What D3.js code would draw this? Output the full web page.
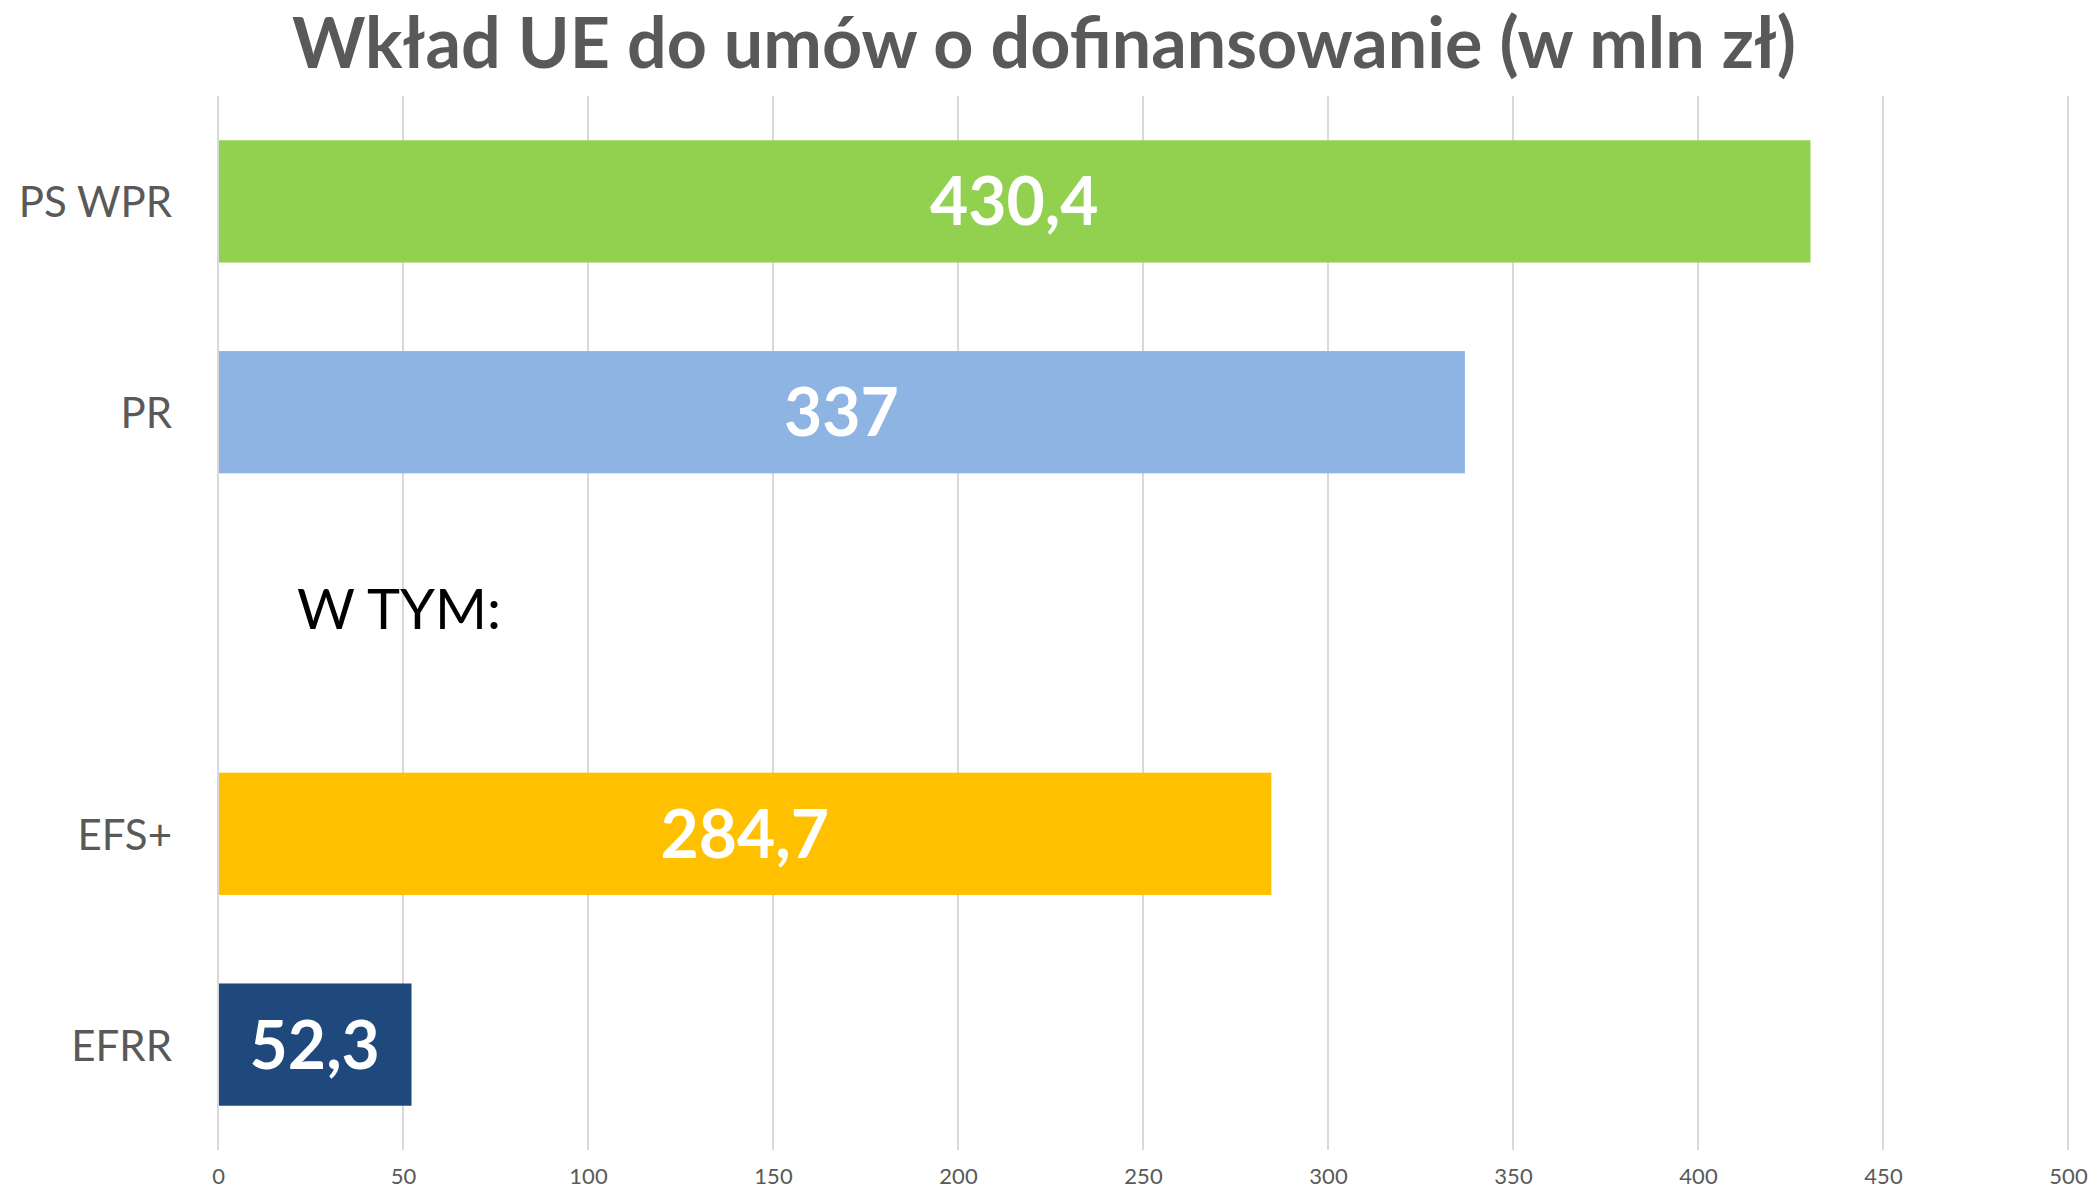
<!DOCTYPE html>
<html>
<head>
<meta charset="utf-8">
<script src="https://cdn.jsdelivr.net/npm/d3@7"></script>
<style>
  html, body { margin: 0; padding: 0; background: #fff; }
  svg { display: block; }
</style>
</head>
<body>
<svg id="chart" width="2094" height="1190"></svg>
<script>
// ---- data ----
const title = "Wkład UE do umów o dofinansowanie (w mln zł)";
const categories = ["PS WPR", "PR", "W TYM:", "EFS+", "EFRR"];
const axisLabels = ["PS WPR", "PR", "", "EFS+", "EFRR"];
const values = [430.4, 337, null, 284.7, 52.3];
const valueLabels = ["430,4", "337", "", "284,7", "52,3"];
const barColors = ["#92D050", "#8EB4E3", "none", "#FFC000", "#1F497D"];
const subheading = "W TYM:";
const xTicks = [0, 50, 100, 150, 200, 250, 300, 350, 400, 450, 500];

const W = 2094, H = 1190;
const m = { left: 218, right: 26, top: 96, bottom: 40 };
const svg = d3.select("#chart");
const font = "Lato, 'Open Sans', sans-serif";

const x = d3.scaleLinear().domain([0, 500]).range([m.left, W - m.right]);
const y = d3.scaleBand().domain(categories).range([m.top, H - m.bottom]).paddingInner(0.42).paddingOuter(0.21);

// gridlines
svg.append("g").selectAll("line").data(xTicks).join("line")
  .attr("x1", d => x(d)).attr("x2", d => x(d))
  .attr("y1", m.top).attr("y2", H - m.bottom)
  .attr("stroke", "#D9D9D9").attr("stroke-width", 2);

// x axis tick labels
const xAxis = d3.axisBottom(x).tickValues(xTicks).tickSize(0).tickPadding(0).tickFormat(d3.format("d"));
const gx = svg.append("g").attr("transform", `translate(0,${H - m.bottom})`).call(xAxis);
gx.select(".domain").remove();
gx.selectAll("text").attr("y", 34).attr("dy", null)
  .attr("font-family", font).attr("font-size", 22).attr("fill", "#595959");

// bars
const rows = categories.map((c, i) => ({ c, v: values[i], label: valueLabels[i], axis: axisLabels[i], color: barColors[i] }));
svg.append("g").selectAll("rect").data(rows.filter(r => r.v != null)).join("rect")
  .attr("x", x(0) + 1)
  .attr("y", d => y(d.c))
  .attr("width", d => x(d.v) - x(0) - 1)
  .attr("height", y.bandwidth())
  .attr("fill", d => d.color);

// value labels
svg.append("g").selectAll("text").data(rows.filter(r => r.v != null)).join("text")
  .attr("x", d => (x(0) + x(d.v)) / 2)
  .attr("y", d => y(d.c) + y.bandwidth() / 2 + 24)
  .attr("text-anchor", "middle")
  .attr("font-family", font).attr("font-weight", 700).attr("font-size", 66)
  .attr("fill", "#fff")
  .text(d => d.label);

// y axis labels
const yAxis = d3.axisLeft(y).tickSize(0).tickPadding(0).tickFormat((d, i) => axisLabels[i]);
const gy = svg.append("g").attr("transform", `translate(172,0)`).call(yAxis);
gy.select(".domain").remove();
gy.selectAll("text").attr("dy", null).attr("dominant-baseline", null)
  .attr("y", 16)
  .attr("font-family", font).attr("font-size", 42).attr("fill", "#595959");

// subheading in the empty band
svg.append("text")
  .attr("x", 297)
  .attr("y", y("W TYM:") + y.bandwidth() / 2 + 6)
  .attr("font-family", font).attr("font-size", 56).attr("fill", "#000")
  .text(subheading);

// title
svg.append("text")
  .attr("x", 1044).attr("y", 68)
  .attr("text-anchor", "middle")
  .attr("font-family", font).attr("font-weight", 700).attr("font-size", 70)
  .attr("fill", "#595959")
  .text(title);
</script>
</body>
</html>
